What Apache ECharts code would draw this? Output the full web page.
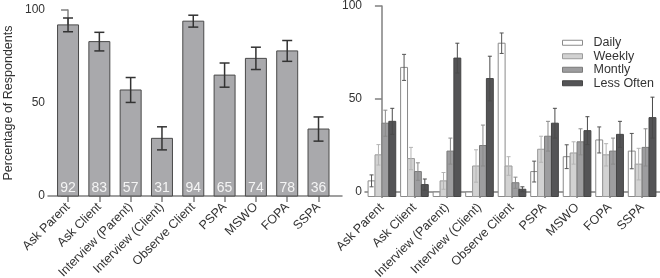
<!DOCTYPE html>
<html>
<head>
<meta charset="utf-8">
<script src="https://cdn.jsdelivr.net/npm/echarts@6/dist/echarts.min.js"></script>
<style>
  html, body { margin: 0; padding: 0; background: #fff; }
  #chart { width: 660px; height: 278px; }
</style>
</head>
<body>
<div id="chart"></div>
<script>
// categories shared by both panels
var categories = ['Ask Parent', 'Ask Client', 'Interview (Parent)', 'Interview (Client)', 'Observe Client', 'PSPA', 'MSWO', 'FOPA', 'SSPA']
var yTicks = [0, 50, 100]

// left panel: overall use
var overall = [92, 83, 57, 31, 94, 65, 74, 78, 36]
var overallErr = [3.7, 5, 6.7, 6.2, 3.2, 6.5, 6, 5.6, 6.5]

// right panel: frequency of use
var freqNames = ['Daily', 'Weekly', 'Montly', 'Less Often']
var daily = [6, 67, 0, 0, 80, 11, 19, 28, 22]
var dailyErr = [3.2, 7, 0, 0, 5.5, 5.6, 6.4, 7, 9.5]
var weekly = [20, 18, 6, 14, 14, 23, 21, 20, 15]
var weeklyErr = [5.5, 6, 4.5, 8.7, 5, 7, 6, 6, 8.5]
var monthly = [37, 11, 22, 25, 5, 30, 27, 22, 24]
var monthlyErr = [7, 4.7, 7, 11, 3, 8, 7, 7, 10]
var lessOften = [38, 4, 72, 61, 1.5, 37, 33, 31, 40]
var lessOftenErr = [7, 3, 8, 12, 1.3, 8, 7.5, 7, 11]

var freqValues = [daily, weekly, monthly, lessOften]
var freqErrs = [dailyErr, weeklyErr, monthlyErr, lessOftenErr]
var freqFill = ['#ffffff', '#d2d2d2', '#9d9d9f', '#545456']
var freqBorder = ['#8a8a8a', '#9a9a9a', '#7a7a7a', '#454545']
var freqErrColor = ['#555555', '#b4b4b4', '#8a8a8a', '#4a4a4a']

var FONT = 'Liberation Sans'
var catIdx = categories.map(function (c, i) { return i })
var rightBase = -2.4

var chart = echarts.init(document.getElementById('chart'))

function xAxisOf(gridIndex, min, max) {
  return {
    type: 'value',
    gridIndex: gridIndex,
    min: min,
    max: max,
    splitLine: { show: false },
    axisLine: { show: true, lineStyle: { color: '#808080', width: 1.5 } },
    axisTick: { show: true, customValues: catIdx, length: 6, lineStyle: { color: '#808080', width: 1.5 } },
    axisLabel: {
      customValues: catIdx,
      rotate: 45,
      margin: 9,
      fontFamily: FONT,
      fontSize: 12.5,
      color: '#333',
      formatter: function (v) { return categories[Math.round(v)] }
    }
  }
}

function yAxisOf(gridIndex, min, extra) {
  var ax = {
    type: 'value',
    gridIndex: gridIndex,
    min: min,
    max: 100,
    splitLine: { show: false },
    axisLine: { show: true, lineStyle: { color: '#808080', width: 1.5 } },
    axisTick: { show: true, customValues: yTicks, length: 7, lineStyle: { color: '#808080', width: 1.5 } },
    axisLabel: { customValues: yTicks, margin: 3, fontFamily: FONT, fontSize: 12, color: '#333' }
  }
  return Object.assign(ax, extra || {})
}

function errorBar(api, cx, v, e, cap, color, width) {
  var hi = api.coord([0, v + e])[1]
  var lo = api.coord([0, v - e])[1]
  var st = { stroke: color, lineWidth: width }
  return [
    { type: 'line', shape: { x1: cx, y1: hi, x2: cx, y2: lo }, style: st },
    { type: 'line', shape: { x1: cx - cap, y1: hi, x2: cx + cap, y2: hi }, style: st },
    { type: 'line', shape: { x1: cx - cap, y1: lo, x2: cx + cap, y2: lo }, style: st }
  ]
}

var series = [{
  type: 'custom',
  name: 'Overall',
  xAxisIndex: 0,
  yAxisIndex: 0,
  data: overall.map(function (v, i) { return [i, v, overallErr[i]] }),
  encode: { x: 0, y: 1 },
  renderItem: function (params, api) {
    var i = api.value(0), v = api.value(1), e = api.value(2)
    var unit = api.size([1, 0])[0]
    var bw = unit * 0.67
    var cx = api.coord([i, 0])[0]
    var top = api.coord([i, v])[1]
    var base = api.coord([i, 0])[1]
    var kids = [{
      type: 'rect',
      shape: { x: cx - bw / 2, y: top, width: bw, height: base - top },
      style: { fill: '#a9a9ac', stroke: '#4a4a4a', lineWidth: 1 }
    }]
    kids = kids.concat(errorBar(api, cx, v, e, 5, '#333333', 1.5))
    kids.push({
      type: 'text',
      style: {
        text: String(v), x: cx, y: base - 8, align: 'center', verticalAlign: 'middle',
        fill: '#f4f4f4', fontFamily: FONT, fontSize: 14
      }
    })
    return { type: 'group', children: kids }
  }
}]

freqNames.forEach(function (name, k) {
  series.push({
    type: 'custom',
    name: name,
    xAxisIndex: 1,
    yAxisIndex: 1,
    itemStyle: { color: freqFill[k], borderColor: freqBorder[k], borderWidth: 1 },
    data: freqValues[k].map(function (v, i) { return [i, v, freqErrs[k][i]] }),
    encode: { x: 0, y: 1 },
    renderItem: function (params, api) {
      var i = api.value(0), v = api.value(1), e = api.value(2)
      var unit = api.size([1, 0])[0]
      var bw = unit * 0.2125
      var cx = api.coord([i, 0])[0] + (k - 1.5) * bw
      var top = api.coord([i, v])[1]
      var base = api.coord([i, rightBase])[1]
      var kids = [{
        type: 'rect',
        shape: { x: cx - bw / 2, y: top, width: bw, height: base - top },
        style: { fill: freqFill[k], stroke: freqBorder[k], lineWidth: 1 }
      }]
      if (e > 0) kids = kids.concat(errorBar(api, cx, v, e, 2, freqErrColor[k], 1))
      return { type: 'group', children: kids }
    }
  })
})

chart.setOption({
  animation: false,
  textStyle: { fontFamily: FONT },
  grid: [
    { left: 48, top: 10, width: 294, height: 186, outerBoundsMode: 'none' },
    { left: 365, top: 6, width: 295, height: 190.5, outerBoundsMode: 'none' }
  ],
  legend: {
    orient: 'vertical',
    left: 557,
    top: 31,
    icon: 'rect',
    itemWidth: 20,
    itemHeight: 5,
    itemGap: 0,
    textStyle: { fontFamily: FONT, fontSize: 12.5, color: '#333', lineHeight: 13.5, padding: [0, 0, 0, 6] },
    data: freqNames.map(function (n, k) {
      return { name: n, itemStyle: { color: freqFill[k], borderColor: freqBorder[k], borderWidth: 1 } }
    })
  },
  xAxis: [xAxisOf(0, -0.64, 8.75), xAxisOf(1, -0.52, 8.55)],
  yAxis: [
    yAxisOf(0, 0, {
      name: 'Percentage of Respondents',
      nameLocation: 'middle',
      nameGap: 33,
      nameTextStyle: { fontFamily: FONT, fontSize: 12.5, color: '#333' }
    }),
    yAxisOf(1, rightBase)
  ],
  series: series
})
</script>
</body>
</html>
